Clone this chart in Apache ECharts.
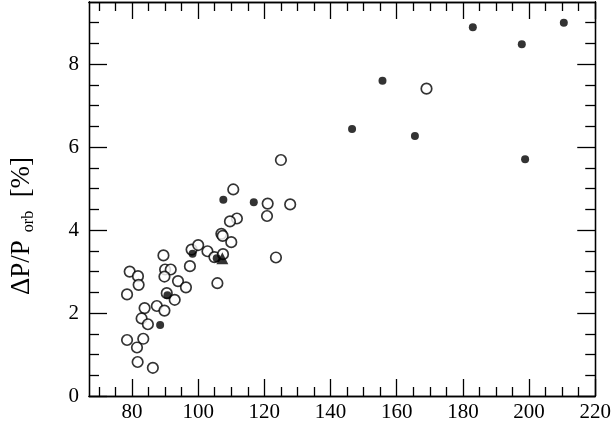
<!DOCTYPE html>
<html><head><meta charset="utf-8">
<script src="https://cdn.jsdelivr.net/npm/echarts@6/dist/echarts.min.js"></script>
<style>html,body{margin:0;padding:0;background:#fff}#c{width:614px;height:423px}</style>
</head><body><div id="c"></div>
<script>
// Open circles
const openPeriod = [89.5,79.3,81.8,82.0,78.5,90.0,91.7,89.8,97.5,98.0,100.0,102.8,93.9,96.3,90.5,92.9,83.8,87.5,89.8,82.9,84.8,78.5,83.4,81.5,81.7,86.3,110.6,121.0,127.8,120.8,111.7,109.6,107.0,107.4,110.0,104.9,107.5,123.5,105.8,125.0,169.0];
const openDelta  = [3.39,3.00,2.89,2.68,2.45,3.05,3.05,2.88,3.13,3.53,3.64,3.49,2.77,2.62,2.48,2.32,2.12,2.17,2.06,1.87,1.73,1.35,1.38,1.17,0.82,0.68,4.98,4.64,4.62,4.34,4.28,4.21,3.91,3.86,3.71,3.35,3.42,3.34,2.72,5.69,7.41];
// Filled circles
const filledPeriod = [88.5,90.7,98.3,105.6,107.6,116.8,146.5,155.7,165.5,183.0,197.8,198.8,210.5];
const filledDelta  = [1.71,2.43,3.43,3.32,4.73,4.67,6.44,7.60,6.27,8.89,8.48,5.71,9.00];
// Triangle
const triPeriod = [107.3];
const triDelta  = [3.32];
// Axis ticks
const xMajor = [80,100,120,140,160,180,200,220];
const xMinor = [70,75,85,90,95,105,110,115,125,130,135,145,150,155,165,170,175,185,190,195,205,210,215];
const yMajor = [0,2,4,6,8];
const yMinor = [0.5,1,1.5,2.5,3,3.5,4.5,5,5.5,6.5,7,7.5,8.5,9];
const xMin = 67, xMax = 220, yMin = 0, yMax = 9.5;

const zip = (a,b) => a.map((v,i)=>[v,b[i]]);
const font = '"Liberation Serif", "DejaVu Serif", serif';

function xAx(pos, vals, len, labels){
  return {type:'value', position:pos, min:xMin, max:xMax,
    axisLine:{show:true, onZero:false, lineStyle:{color:'#000', width:1.3}},
    axisTick:{show:true, inside:true, length:len, customValues:vals, lineStyle:{color:'#000', width:1.3}},
    axisLabel:{show:labels, customValues:vals, color:'#000', fontFamily:font, fontSize:21, margin:6},
    splitLine:{show:false}};
}
function yAx(pos, vals, len, labels){
  return {type:'value', position:pos, min:yMin, max:yMax,
    axisLine:{show:true, onZero:false, lineStyle:{color:'#000', width:1.3}},
    axisTick:{show:true, inside:true, length:len, customValues:vals, lineStyle:{color:'#000', width:1.3}},
    axisLabel:{show:labels, customValues:vals, color:'#000', fontFamily:font, fontSize:21, margin:10},
    splitLine:{show:false}};
}

const chart = echarts.init(document.getElementById('c'), null, {renderer:'canvas'});
chart.setOption({
  animation:false,
  backgroundColor:'#fff',
  grid:{left:89, right:16, top:2, bottom:26, containLabel:false},
  xAxis:[xAx('bottom', xMajor, 17, true), xAx('bottom', xMinor, 9, false), xAx('top', xMajor, 17, false), xAx('top', xMinor, 9, false)],
  yAxis:[yAx('left', yMajor, 18, true), yAx('left', yMinor, 10, false), yAx('right', yMajor, 18, false), yAx('right', yMinor, 10, false)],
  series:[
    {type:'scatter', xAxisIndex:0, yAxisIndex:0, data:zip(openPeriod, openDelta), symbol:'circle', symbolSize:10.5,
     itemStyle:{color:'#fff', borderColor:'#000', borderWidth:1.7}},
    {type:'scatter', xAxisIndex:0, yAxisIndex:0, data:zip(filledPeriod, filledDelta), symbol:'circle', symbolSize:8,
     itemStyle:{color:'#000'}},
    {type:'scatter', xAxisIndex:0, yAxisIndex:0, data:zip(triPeriod, triDelta), symbol:'triangle', symbolSize:12,
     itemStyle:{color:'#000'}}
  ],
  graphic:[{type:'text', x:22, y:226, rotation:Math.PI/2,
    style:{text:'{a|ΔP/P}{s|  orb}{a|  [%]}', align:'center', verticalAlign:'middle', fill:'#000',
      rich:{a:{fontFamily:font, fontSize:27, fill:'#000', lineHeight:30},
            s:{fontFamily:font, fontSize:16, fill:'#000', verticalAlign:'bottom', padding:[12,0,0,0]}}}}]
});
</script></body></html>
